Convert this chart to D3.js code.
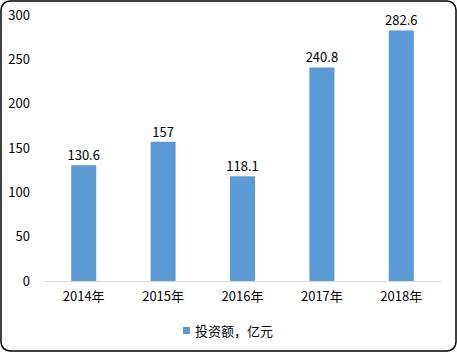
<!DOCTYPE html>
<html>
<head>
<meta charset="utf-8">
<script src="https://cdn.jsdelivr.net/npm/d3@7"></script>
<style>
    body { margin: 0; background: #fff; }
    svg { display: block; font-family: "Noto Sans CJK SC", "Open Sans", sans-serif; }
</style>
</head>
<body>
<div id="chart"></div>
<script>
const years = ['2014年', '2015年', '2016年', '2017年', '2018年'];
const investment = [130.6, 157, 118.1, 240.8, 282.6];
const y_ticks = [0, 50, 100, 150, 200, 250, 300];
const series_name = '投资额，亿元';

(function() {
    let width = 457,
        height = 352,
        bar_color = '#5B9BD5';

    let svg = d3.select('#chart').append('svg')
        .attr('width', width)
        .attr('height', height);

    // outer frame
    svg.append('rect')
        .attr('x', 1).attr('y', 1)
        .attr('width', width - 2).attr('height', height - 2)
        .attr('rx', 9).attr('ry', 9)
        .attr('fill', '#fff')
        .attr('stroke', '#000')
        .attr('stroke-width', 1.5);

    let x = d3.scaleBand().domain(years).range([44, 441]);
    let y = d3.scaleLinear().domain([0, 300]).range([281, 15]);
    let bar_width = x.bandwidth() * 0.315;

    // y tick labels (no axis line)
    let y_axis = svg.append('g')
        .attr('transform', 'translate(30,0)')
        .call(d3.axisLeft(y).tickValues(y_ticks).tickSize(0).tickPadding(0));
    y_axis.select('.domain').remove();
    y_axis.selectAll('text')
        .attr('font-size', 13)
        .attr('font-family', '"Noto Sans CJK SC", sans-serif')
        .attr('fill', '#000');

    svg.selectAll('rect.bar')
        .data(investment)
        .enter().append('rect')
        .attr('class', 'bar')
        .attr('x', (d, i) => x(years[i]) + (x.bandwidth() - bar_width) / 2)
        .attr('y', (d) => y(d))
        .attr('width', bar_width)
        .attr('height', (d) => y(0) - y(d))
        .attr('fill', bar_color);

    svg.selectAll('text.value')
        .data(investment)
        .enter().append('text')
        .attr('class', 'value')
        .attr('x', (d, i) => x(years[i]) + x.bandwidth() / 2)
        .attr('y', (d) => y(d) - 5)
        .attr('text-anchor', 'middle')
        .attr('font-size', 13)
        .attr('fill', '#000')
        .text((d) => d);

    // x axis
    let x_axis = svg.append('g')
        .attr('transform', 'translate(0,' + y(0) + ')')
        .call(d3.axisBottom(x).tickSize(0).tickPadding(11));
    x_axis.select('.domain').attr('stroke', '#D9D9D9').attr('stroke-width', 1);
    x_axis.selectAll('text')
        .attr('font-size', 13)
        .attr('font-family', '"Noto Sans CJK SC", sans-serif')
        .attr('fill', '#000');

    // legend
    let legend = svg.append('g').attr('transform', 'translate(183,327)');
    legend.append('rect')
        .attr('width', 7).attr('height', 7)
        .attr('fill', bar_color);
    legend.append('text')
        .attr('x', 12).attr('y', 4)
        .attr('dy', '0.35em')
        .attr('font-size', 13)
        .attr('fill', '#000')
        .text(series_name);
}());
</script>
</body>
</html>
